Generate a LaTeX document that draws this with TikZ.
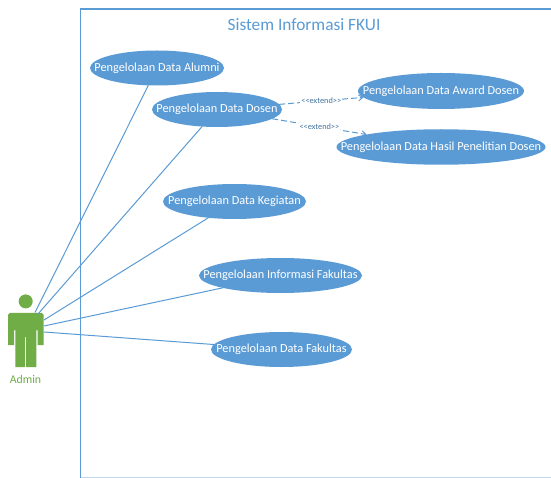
\documentclass[tikz,border=0pt]{standalone}
\usepackage{fontspec}
\setmainfont{Carlito}
\usetikzlibrary{shapes.geometric,arrows.meta}
\definecolor{ucblue}{HTML}{5B9BD5}
\definecolor{actgreen}{HTML}{70AD47}
\newcommand{\uctext}[1]{\makebox[0pt][c]{\raisebox{-0.7pt}{#1}}}
\tikzset{
  usecase/.style={ellipse,fill=ucblue,inner sep=0pt,outer sep=0pt,text=white,font=\fontsize{12.3}{14}\selectfont},
  assoc/.style={draw=ucblue,line width=1pt},
  ext/.style={draw=ucblue,line width=1pt,dash pattern=on 6pt off 3pt,-{Straight Barb[length=4pt,width=6pt]}},
  extlabel/.style={font=\fontsize{8.3}{9}\selectfont,text=ucblue!75!black,fill=white,inner sep=1pt},
}
\begin{document}
\begin{tikzpicture}[x=1pt,y=-1pt]
\useasboundingbox (0,0) rectangle (551,478);
\fill[white] (0,0) rectangle (551,478);
\draw[ucblue,line width=1.1pt] (80.5,478) -- (80.5,9) -- (551,9);
\draw[ucblue!40,line width=0.9pt] (80.5,477.6) -- (551,477.6);
\node[font=\fontsize{17.3}{20}\selectfont,text=ucblue] (title) at (304,25) {Sistem Informasi FKUI};
\node[usecase,minimum width=134pt,minimum height=35pt] (alumni) at (157,68) {\uctext{Pengelolaan Data Alumni}};
\node[usecase,minimum width=130pt,minimum height=35pt] (dosen) at (217,109.5) {\uctext{Pengelolaan Data Dosen}};
\node[usecase,minimum width=166pt,minimum height=36pt] (award) at (441,91) {\uctext{Pengelolaan Data Award Dosen}};
\node[usecase,minimum width=209pt,minimum height=35.5pt] (hasil) at (441,147) {\uctext{Pengelolaan Data Hasil Penelitian Dosen}};
\node[usecase,minimum width=143pt,minimum height=35pt] (kegiatan) at (234.5,201.5) {\uctext{Pengelolaan Data Kegiatan}};
\node[usecase,minimum width=163pt,minimum height=35pt] (info) at (280.5,275.5) {\uctext{Pengelolaan Informasi Fakultas}};
\node[usecase,minimum width=141pt,minimum height=35pt] (fakultas) at (281.5,349.5) {\uctext{Pengelolaan Data Fakultas}};
% actor
\fill[actgreen] (25.7,301.4) circle (7pt);
\fill[actgreen] (10,312.8) -- (41.7,312.8) -- (43.7,314.8) -- (43.7,345) -- (37.5,345) -- (37.5,330) -- (36.3,330) -- (36.3,367) -- (26.2,367) -- (26.2,337) -- (25.2,337) -- (25.2,367) -- (15.3,367) -- (15.3,330) -- (14,330) -- (14,345) -- (8,345) -- (8,314.8) -- cycle;
\coordinate (armA) at (35,312.5);
\coordinate (armB) at (38,314);
\coordinate (armC) at (44,320);
\coordinate (armD) at (44,326);
\coordinate (armE) at (44,332);
\node[font=\fontsize{11.8}{14}\selectfont,text=actgreen] (admin) at (25.5,379) {Admin};
\draw[assoc] (armA) -- (alumni);
\draw[assoc] (armB) -- (dosen);
\draw[assoc] (armC) -- (kegiatan);
\draw[assoc] (armD) -- (info);
\draw[assoc] (armE) -- (fakultas);
\draw[ext] (dosen) -- node[extlabel,pos=0.5]{<{}<extend>{}>} (award);
\draw[ext] (dosen) -- node[extlabel,pos=0.5]{<{}<extend>{}>} (hasil);
\end{tikzpicture}
\end{document}
